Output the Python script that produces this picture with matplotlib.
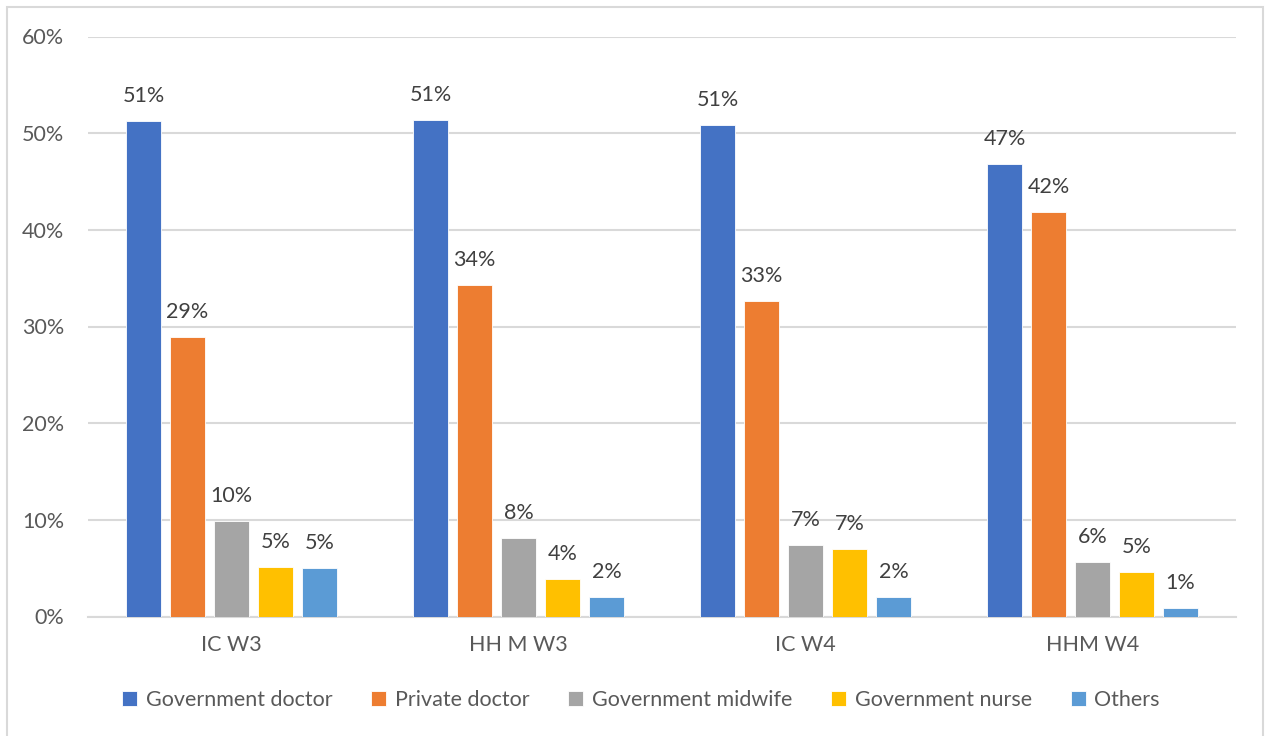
import numpy as np
import matplotlib.pyplot as plt
from matplotlib.patches import Rectangle
from matplotlib.ticker import FuncFormatter

plt.rcParams['font.family'] = ['Lato', 'DejaVu Sans']

groups = ['IC W3', 'HH M W3', 'IC W4', 'HHM W4']
series = ['Government doctor', 'Private doctor', 'Government midwife',
          'Government nurse', 'Others']
colors = ['#4472C4', '#ED7D31', '#A5A5A5', '#FFC000', '#5B9BD5']

gov_doctor = [51.3, 51.4, 50.8, 46.8]
private_doctor = [28.9, 34.3, 32.6, 41.8]
gov_midwife = [9.9, 8.1, 7.4, 5.6]
gov_nurse = [5.1, 3.9, 7.0, 4.6]
others = [5.0, 2.0, 2.0, 0.9]
values = [gov_doctor, private_doctor, gov_midwife, gov_nurse, others]

fs = 15.5

fig = plt.figure(figsize=(12.65, 7.36), dpi=100)
ax = fig.add_axes([88 / 1265, 1 - 616.5 / 736, (1236 - 88) / 1265, (616.5 - 36.5) / 736])

# outer frame of the chart (bottom edge runs off the image)
fig.patches.append(Rectangle((7 / 1265, -0.05), 1256 / 1265, 0.05 + 729 / 736,
                             transform=fig.transFigure, fill=False,
                             edgecolor='#d9d9d9', linewidth=1.5))

x = np.arange(len(groups))
step = 44 / 287
width = 35 / 287
for i, (name, vals, c) in enumerate(zip(series, values, colors)):
    pos = x + (i - 2) * step
    bars = ax.bar(pos, vals, width, color=c, label=name, edgecolor='white', linewidth=0.6, zorder=3)
    for b, v in zip(bars, vals):
        ax.annotate(f'{v:.0f}%', (b.get_x() + b.get_width() / 2, v), xytext=(0, 18),
                    textcoords='offset points', ha='center', va='center',
                    fontsize=fs, color='#404040')

ax.set_xlim(-0.5, len(groups) - 0.5)
ax.set_ylim(0, 60)
ax.set_yticks(np.arange(0, 61, 10))
ax.yaxis.set_major_formatter(FuncFormatter(lambda v, p: f'{v:.0f}%'))
ax.set_xticks(x)
ax.set_xticklabels(groups)
ax.tick_params(axis='both', length=0, labelsize=fs, labelcolor='#595959')
ax.tick_params(axis='y', pad=17)
ax.tick_params(axis='x', pad=13)
ax.grid(axis='y', color='#d9d9d9', linewidth=1.5, zorder=0)
for s in ['top', 'right', 'left']:
    ax.spines[s].set_visible(False)
ax.spines['bottom'].set_color('#d9d9d9')
ax.spines['bottom'].set_linewidth(1.5)

fig.legend(loc='center', bbox_to_anchor=(641 / 1265, 1 - 700 / 736), ncol=5, frameon=False,
           fontsize=fs, labelcolor='#595959', handlelength=0.7, handleheight=0.7,
           handletextpad=0.4, columnspacing=1.8)

fig.savefig('out.png', dpi=100)
